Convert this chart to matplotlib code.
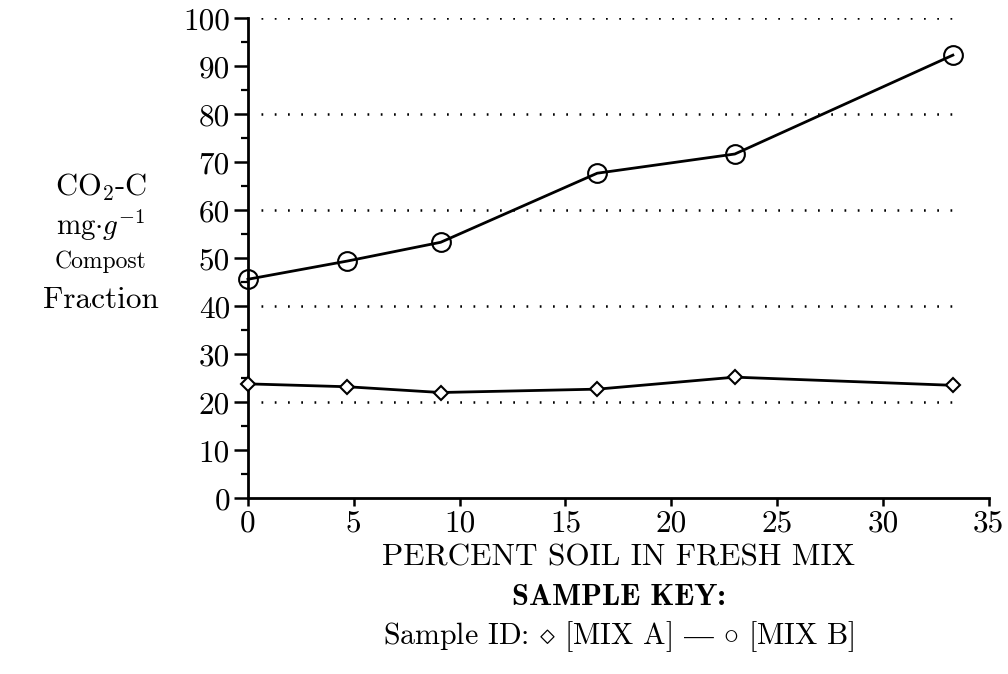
import matplotlib
matplotlib.use("Agg")
import matplotlib.pyplot as plt
from matplotlib.ticker import MultipleLocator

plt.rcParams['font.family'] = ['cmr10', 'DejaVu Serif']
plt.rcParams['mathtext.fontset'] = 'cm'
plt.rcParams['axes.unicode_minus'] = False

# percent soil in the fresh mix
soil_pct = [0, 4.7, 9.1, 16.5, 23.0, 33.3]
# CO2-C, mg per g compost fraction
mix_a = [23.8, 23.2, 22.0, 22.7, 25.2, 23.5]
mix_b = [45.6, 49.4, 53.3, 67.7, 71.7, 92.3]

grid_levels = [20, 40, 60, 80, 100]
xticks = [0, 5, 10, 15, 20, 25, 30, 35]
yticks = [0, 10, 20, 30, 40, 50, 60, 70, 80, 90, 100]

fig = plt.figure(figsize=(10.08, 6.74), dpi=100)
ax = fig.add_axes([0.246, 0.261, 0.735, 0.712])

ax.hlines(grid_levels, 0.6, 33.7, colors='black', linewidth=1.8,
          linestyles=(0, (0.7, 4.6)))

ax.plot(soil_pct, mix_b, color='black', linewidth=2.0, marker='o',
        markersize=13.5, markerfacecolor='none', markeredgewidth=1.5,
        clip_on=False, zorder=3)
ax.plot(soil_pct, mix_a, color='black', linewidth=2.0, marker='D',
        markersize=7, markerfacecolor='white', markeredgewidth=1.5,
        clip_on=False, zorder=3)

ax.set_xlim(0, 35)
ax.set_ylim(0, 100)
ax.set_xticks(xticks)
ax.set_yticks(yticks)
ax.yaxis.set_minor_locator(MultipleLocator(5))

for s in ['top', 'right']:
    ax.spines[s].set_visible(False)
for s in ['left', 'bottom']:
    ax.spines[s].set_linewidth(2.0)

ax.tick_params(axis='y', which='major', direction='out', length=10,
               width=1.8, labelsize=22.5, pad=3)
ax.tick_params(axis='y', which='minor', direction='out', length=5,
               width=1.6)
ax.tick_params(axis='x', which='major', direction='out', length=6,
               width=1.8, labelsize=22.5, pad=2)

# stacked y-axis caption
fig.text(0.1, 0.722, r'CO$_2$-C', ha='center', va='center', fontsize=22)
fig.text(0.1, 0.666, r'mg$\cdot g^{-1}$', ha='center', va='center',
         fontsize=21)
fig.text(0.1, 0.611, 'Compost', ha='center', va='center', fontsize=17)
fig.text(0.1, 0.555, 'Fraction', ha='center', va='center', fontsize=22.5)

fig.text(0.614, 0.173, 'PERCENT SOIL IN FRESH MIX', ha='center',
         va='center', fontsize=22.5)
fig.text(0.614, 0.114, 'SAMPLE KEY:', ha='center', va='center',
         fontsize=22, family=['cmb10', 'DejaVu Serif'])
fig.text(0.614, 0.055,
         'Sample ID: $\\diamond$ [MIX A] $\u2014$ $\\circ$ [MIX B]',
         ha='center', va='center', fontsize=21.5)

fig.savefig('out.png', dpi=100)
